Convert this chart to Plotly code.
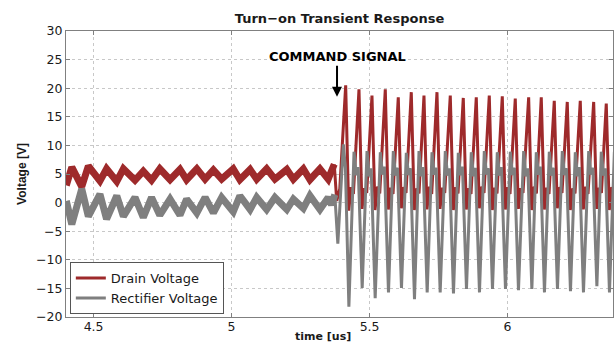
import plotly.graph_objects as go

# ---- Drain voltage, before the command signal (fuzzy low-level ripple) ----
drain_pre_t = [4.401, 4.421, 4.457, 4.481, 4.523, 4.547, 4.584, 4.608, 4.650, 4.680,
               4.710, 4.740, 4.777, 4.813, 4.837, 4.874, 4.904, 4.934, 4.964, 5.006,
               5.030, 5.067, 5.091, 5.127, 5.157, 5.200, 5.224, 5.260, 5.284, 5.320,
               5.350, 5.372]
drain_pre_v = [3.0, 6.2, 2.8, 6.4, 3.8, 5.9, 3.7, 5.9, 3.9, 5.5,
               3.9, 5.9, 4.0, 5.8, 4.0, 5.9, 4.1, 5.7, 4.1, 5.9,
               4.0, 5.8, 4.1, 5.9, 4.1, 5.8, 4.1, 5.9, 4.0, 5.9,
               4.1, 6.7]

# ---- Drain voltage, after the command signal (switching pulses) ----
drain_post_t = [5.372, 5.381, 5.392,
                5.4134, 5.4244, 5.4334, 5.4414,
                5.4616, 5.4726, 5.4816, 5.4896,
                5.5087, 5.5197, 5.5287, 5.5367,
                5.5569, 5.5679, 5.5769, 5.5849,
                5.6040, 5.6150, 5.6240, 5.6320,
                5.6511, 5.6621, 5.6711, 5.6791,
                5.6971, 5.7081, 5.7171, 5.7251,
                5.7442, 5.7552, 5.7642, 5.7722,
                5.7924, 5.8034, 5.8124, 5.8204,
                5.8395, 5.8505, 5.8595, 5.8675,
                5.8866, 5.8976, 5.9066, 5.9146,
                5.9337, 5.9447, 5.9537, 5.9617,
                5.9808, 5.9918, 6.0008, 6.0088,
                6.0279, 6.0389, 6.0479, 6.0559,
                6.0764, 6.0874, 6.0964, 6.1044,
                6.1221, 6.1331, 6.1421, 6.1501,
                6.1692, 6.1802, 6.1892, 6.1972,
                6.2163, 6.2273, 6.2363, 6.2443,
                6.2634, 6.2744, 6.2834, 6.2914,
                6.3120, 6.3230, 6.3320, 6.3400,
                6.3576, 6.3686, 6.3776, 6.3856, 6.3950]
drain_post_v = [6.7, 0.3, 2.4,
                20.5, -1.4, 2.7, 1.5,
                19.8, -1.1, 2.5, 1.7,
                18.7, -1.3, 2.8, 1.6,
                19.8, -1.2, 2.6, 1.5,
                18.4, -1.0, 2.7, 1.7,
                19.3, -1.3, 2.5, 1.6,
                18.7, -1.2, 2.8, 1.5,
                19.3, -1.1, 2.6, 1.7,
                18.7, -1.3, 2.7, 1.6,
                18.3, -1.2, 2.5, 1.5,
                18.4, -1.0, 2.8, 1.7,
                18.7, -1.3, 2.6, 1.6,
                18.6, -1.2, 2.7, 1.5,
                18.2, -1.1, 2.5, 1.7,
                18.4, -1.3, 2.8, 1.6,
                18.4, -1.2, 2.6, 1.5,
                17.8, -1.0, 2.7, 1.7,
                17.6, -1.3, 2.5, 1.6,
                17.8, -1.2, 2.8, 1.5,
                17.6, -1.1, 2.6, 1.7,
                17.3, -1.3, 2.7, 1.6, 5.5]

# ---- Rectifier voltage, before the command signal ----
rect_pre_t = [4.401, 4.421, 4.457, 4.481, 4.523, 4.547, 4.584, 4.608, 4.650, 4.680,
              4.710, 4.740, 4.777, 4.813, 4.837, 4.874, 4.904, 4.934, 4.964, 5.006,
              5.030, 5.067, 5.091, 5.127, 5.157, 5.200, 5.224, 5.260, 5.284, 5.320,
              5.350, 5.362, 5.374]
rect_pre_v = [0.3, -3.8, 2.4, -2.4, 1.5, -2.9, 1.2, -2.4, 0.9, -2.6,
              0.9, -2.2, 0.6, -2.2, 0.6, -1.8, 0.9, -1.8, 0.9, -1.6,
              1.2, -1.2, 0.9, -1.2, 0.9, -1.2, 0.6, -1.0, 1.2, -1.2,
              0.9, -0.4, 1.4]

# ---- Rectifier voltage, after the command signal ----
rect_post_t = [5.374, 5.385, 5.405, 5.4125,
               5.4250, 5.4436, 5.4516, 5.4586,
               5.4732, 5.4907, 5.4987, 5.5057,
               5.5203, 5.5389, 5.5469, 5.5539,
               5.5685, 5.5860, 5.5940, 5.6010,
               5.6156, 5.6331, 5.6411, 5.6481,
               5.6627, 5.6791, 5.6871, 5.6941,
               5.7087, 5.7262, 5.7342, 5.7412,
               5.7558, 5.7744, 5.7824, 5.7894,
               5.8040, 5.8215, 5.8295, 5.8365,
               5.8511, 5.8686, 5.8766, 5.8836,
               5.8982, 5.9157, 5.9237, 5.9307,
               5.9453, 5.9628, 5.9708, 5.9778,
               5.9924, 6.0099, 6.0179, 6.0249,
               6.0395, 6.0584, 6.0664, 6.0734,
               6.0880, 6.1041, 6.1121, 6.1191,
               6.1337, 6.1512, 6.1592, 6.1662,
               6.1808, 6.1983, 6.2063, 6.2133,
               6.2279, 6.2454, 6.2534, 6.2604,
               6.2750, 6.2940, 6.3020, 6.3090,
               6.3236, 6.3396, 6.3476, 6.3546,
               6.3692, 6.3870]
rect_post_v = [1.4, -7.2, 10.2, 6.0,
               -18.2, 8.9, 4.8, 6.2,
               -14.9, 9.0, 4.6, 6.0,
               -16.7, 8.8, 4.9, 6.3,
               -15.7, 9.0, 4.7, 6.1,
               -14.9, 8.7, 4.8, 6.0,
               -16.9, 9.0, 4.6, 6.2,
               -15.7, 8.8, 4.9, 6.1,
               -15.7, 9.0, 4.7, 6.0,
               -15.9, 8.7, 4.8, 6.3,
               -15.1, 8.8, 4.6, 6.1,
               -15.7, 9.0, 4.9, 6.0,
               -15.1, 8.8, 4.7, 6.2,
               -15.1, 8.9, 4.8, 6.1,
               -15.3, 9.0, 4.6, 6.0,
               -15.1, 8.8, 4.9, 6.3,
               -15.7, 8.9, 4.7, 6.1,
               -15.1, 9.0, 4.8, 6.0,
               -15.5, 8.8, 4.6, 6.2,
               -15.7, 9.0, 4.9, 6.1,
               -14.6, 8.9, 4.7, 6.0,
               -15.7, 8.9]

x_tick_vals = [4.5, 5.0, 5.5, 6.0]
x_tick_text = ["4.5", "5", "5.5", "6"]
y_tick_vals = [-20, -15, -10, -5, 0, 5, 10, 15, 20, 25, 30]

command_t = 5.382
command_v = 18.5

RED = "#9E2A2B"
GRAY = "#7F7F7F"
FONT = "DejaVu Sans"
INK = "#1a1a1a"

fig = go.Figure()
fig.add_trace(go.Scatter(x=drain_pre_t, y=drain_pre_v, mode="lines",
                         line=dict(color=RED, width=7), name="Drain Voltage",
                         legendgroup="drain", showlegend=False, hoverinfo="skip"))
fig.add_trace(go.Scatter(x=drain_post_t, y=drain_post_v, mode="lines",
                         line=dict(color=RED, width=3), name="Drain Voltage",
                         legendgroup="drain"))
fig.add_trace(go.Scatter(x=rect_pre_t, y=rect_pre_v, mode="lines",
                         line=dict(color=GRAY, width=7), name="Rectifier Voltage",
                         legendgroup="rect", showlegend=False, hoverinfo="skip"))
fig.add_trace(go.Scatter(x=rect_post_t, y=rect_post_v, mode="lines",
                         line=dict(color=GRAY, width=3), name="Rectifier Voltage",
                         legendgroup="rect"))

axis_common = dict(
    showgrid=True, gridcolor="#c8c8c8", griddash="dot", gridwidth=1,
    showline=True, linecolor="#808080", linewidth=1, mirror="ticks",
    ticks="inside", ticklen=4, tickcolor="#808080",
    zeroline=False, tickfont=dict(family=FONT, size=12.5, color=INK),
)

fig.update_xaxes(range=[4.4, 6.382], tickvals=x_tick_vals, ticktext=x_tick_text,
                 ticklabelstandoff=-2, **axis_common)
fig.update_yaxes(range=[-20, 30], tickvals=y_tick_vals,
                 title=dict(text="Voltage [V]", standoff=6,
                            font=dict(family="Liberation Sans", size=12, color=INK, weight="bold")),
                 **axis_common)

# x-axis title, set just under the tick labels
fig.add_annotation(x=0.47, y=-19 / 286, xref="paper", yref="paper",
                   xanchor="center", yanchor="middle", showarrow=False,
                   text="time [us]",
                   font=dict(family=FONT, size=11, color=INK, weight="bold"))

fig.add_annotation(x=command_t, y=command_v, ax=0, ay=-40,
                   text="COMMAND SIGNAL", showarrow=True,
                   arrowhead=2, arrowsize=1, arrowwidth=2, arrowcolor="black",
                   font=dict(family=FONT, size=13, color="black", weight="bold"))

fig.update_layout(
    width=614, height=343,
    margin=dict(l=66, r=1, t=31, b=26, autoexpand=False),
    paper_bgcolor="white", plot_bgcolor="white",
    title=dict(text="Turn−on Transient Response", x=0.5, xref="paper", xanchor="center",
               y=1 - 18 / 343, yref="container", yanchor="middle",
               font=dict(family=FONT, size=13, color=INK, weight="bold")),
    legend=dict(x=0.007, y=0.01, xanchor="left", yanchor="bottom",
                bgcolor="white", bordercolor="#555555", borderwidth=1,
                font=dict(family=FONT, size=13, color=INK),
                itemwidth=30, tracegroupgap=0),
    showlegend=True,
)

fig.write_html("out.html")
